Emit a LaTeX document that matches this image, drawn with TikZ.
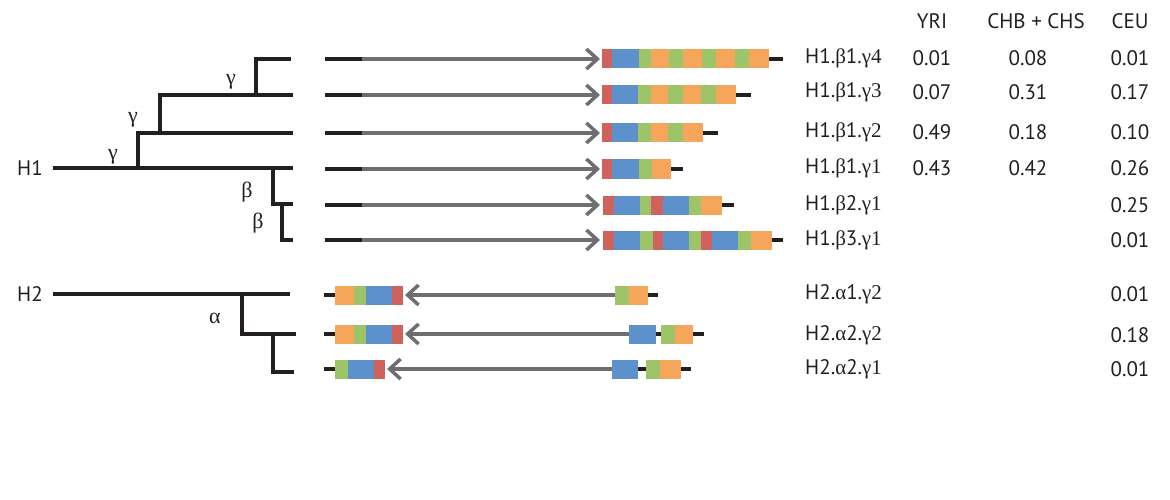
\documentclass[tikz,border=0pt]{standalone}
\usepackage{fontspec}
\setmainfont{PT Sans}
\newfontfamily\gk{Liberation Serif}
\usetikzlibrary{arrows.meta}
\definecolor{cR}{HTML}{CF625C}
\definecolor{cB}{HTML}{5D91CC}
\definecolor{cG}{HTML}{9EC46A}
\definecolor{cO}{HTML}{F6A65A}
\definecolor{cK}{HTML}{231F20}
\definecolor{cA}{HTML}{6E6E70}
\newcommand\segrow[3]{\foreach \c/\e [remember=\e as \s (initially #2)] in {#3} {\fill[\c] ({\s},{#1-9.5}) rectangle ({\e},{#1+9.5});}}
\tikzset{
  tree/.style={line width=4pt, cK, line cap=butt, line join=miter},
  tailln/.style={line width=4pt, cK},
  garrow/.style={line width=3.5pt, cA, -{Straight Barb[length=11pt,width=20pt]}},
  txt/.style={font=\fontsize{21}{24}\selectfont, inner sep=0pt, text=cK},
  glbl/.style={font=\fontsize{22}{24}\selectfont\gk, inner sep=0pt, text=cK},
}
\begin{document}
\begin{tikzpicture}[x=1pt,y=-1pt]
\useasboundingbox (0,0) rectangle (1170,500);
% ---------- tree H1 ----------
\node[txt] (H1) at (30,168) {H1};
\coordinate (r1) at (53,168);
\coordinate (l4) at (293,168);
\coordinate (b1) at (138,168);
\coordinate (l3) at (293,133);
\coordinate (b2) at (160,133);
\coordinate (l2) at (293,95);
\coordinate (b3) at (256,95);
\coordinate (l1) at (291,59);
\coordinate (b4) at (273,168);
\coordinate (l5) at (293,204);
\coordinate (b5) at (282,204);
\coordinate (l6) at (293,240);
\draw[tree] (r1) -- (l4);
\draw[tree] (b1) |- (l3);
\draw[tree] (b2) |- (l2);
\draw[tree] (b3) |- (l1);
\draw[tree] (b4) |- (l5);
\draw[tree] (b5) |- (l6);
\node[glbl] (g1) at (231,82) {γ};
\node[glbl] (g2) at (133,120) {γ};
\node[glbl] (g3) at (113,157) {γ};
\node[glbl] (be1) at (247,192) {β};
\node[glbl] (be2) at (258,223) {β};
% ---------- tree H2 ----------
\node[txt] (H2) at (30,294) {H2};
\coordinate (r2) at (53,294);
\coordinate (m1) at (290,294);
\coordinate (c1) at (242,294);
\coordinate (m2) at (296,334);
\coordinate (c2) at (273,334);
\coordinate (m3) at (294,372);
\draw[tree] (r2) -- (m1);
\draw[tree] (c1) |- (m2);
\draw[tree] (c2) |- (m3);
\node[glbl] (al) at (215,318) {α};
% ---------- H1 genes ----------
\foreach \y/\st/\te [count=\i] in {59/602/783,95/602/751,133/602/718,169/602/683,205/603/734,240/603/783}{
  \coordinate (t\i) at (325,\y);
  \coordinate (s\i) at (362,\y);
  \coordinate (e\i) at (600,\y);
  \coordinate (q\i) at (\st,\y);
  \coordinate (z\i) at (\te,\y);
  \draw[tailln] (t\i) -- (s\i);
  \draw[garrow] (s\i) -- (e\i);
  \draw[tailln] (q\i) -- (z\i);
}
\segrow{59}{602}{cR/612,cB/639,cG/651,cO/669,cG/683,cO/702,cG/716,cO/735,cG/749,cO/769}
\segrow{95}{602}{cR/612,cB/638,cG/651,cO/668,cG/683,cO/701,cG/716,cO/736}
\segrow{133}{602}{cR/612,cB/638,cG/651,cO/668,cG/683,cO/703}
\segrow{169}{602}{cR/612,cB/639,cG/652,cO/671}
\segrow{205}{603}{cR/614,cB/640,cG/651,cR/663,cB/689,cG/701,cO/722}
\segrow{240}{603}{cR/614,cB/640,cG/653,cR/663,cB/689,cG/701,cR/712,cB/738,cG/751,cO/772}
% ---------- H2 genes ----------
\foreach \y/\ls/\ae/\rs/\re [count=\i from 7] in {295/403/405/615/658,334/403/405/629/704,369/385/387/612/691}{
  \coordinate (t\i) at (324,\y);
  \coordinate (q\i) at (\ls,\y);
  \coordinate (e\i) at (\ae,\y);
  \coordinate (s\i) at (\rs,\y);
  \coordinate (z\i) at (\re,\y);
  \draw[tailln] (t\i) -- (q\i);
  \draw[tailln] (s\i) -- (z\i);
  \draw[garrow] (s\i) -- (e\i);
}
\segrow{295}{335}{cO/354,cG/366,cB/392,cR/403}
\segrow{295}{615}{cG/629,cO/648}
\segrow{334}{335}{cO/354,cG/366,cB/392,cR/403}
\segrow{334}{629}{cB/656}
\segrow{334}{661}{cG/675,cO/693}
\segrow{369}{335}{cG/348,cB/374,cR/385}
\segrow{369}{612}{cB/638}
\segrow{369}{646}{cG/660,cO/681}
% ---------- table ----------
\node[txt] (hY) at (932,21) {YRI};
\node[txt] (hC) at (1036,21) {CHB + CHS};
\node[txt] (hE) at (1130,21) {CEU};
\foreach \y/\a/\b/\c/\v/\yr/\ch [count=\i] in {
  58/H1/β/1/γ4/0.01/0.08,
  92/H1/β/1/γ3/0.07/0.31,
  132/H1/β/1/γ2/0.49/0.18,
  168/H1/β/1/γ1/0.43/0.42,
  205/H1/β/2/γ1//,
  240/H1/β/3/γ1//,
  294/H2/α/1/γ2//,
  335/H2/α/2/γ2//,
  369/H2/α/2/γ1//}{
  \node[txt, anchor=west] (n\i) at (805,\y) {\a.{\gk\b}\c.{\gk\v}};
  \node[txt] (y\i) at (932,\y) {\yr};
  \node[txt] (c\i) at (1028,\y) {\ch};
}
\foreach \y/\v [count=\i] in {58/0.01,92/0.17,132/0.10,168/0.26,205/0.25,240/0.01,294/0.01,335/0.18,369/0.01}{
  \node[txt] (u\i) at (1130,\y) {\v};
}
\end{tikzpicture}
\end{document}
